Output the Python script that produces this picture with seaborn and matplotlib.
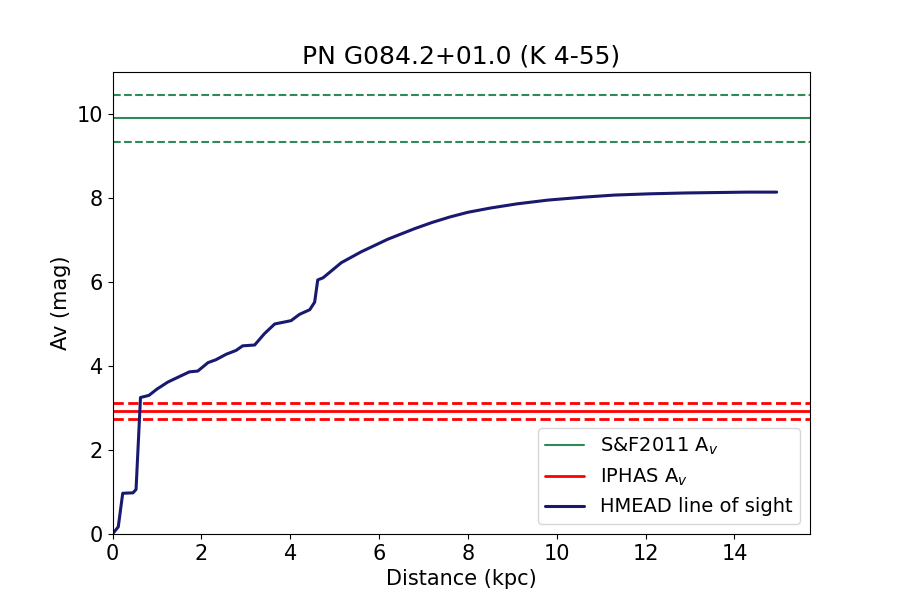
import matplotlib
matplotlib.use("Agg")
import matplotlib.pyplot as plt
import seaborn as sns
import pandas as pd

title = "PN G084.2+01.0 (K 4-55)"
distance = [0.0, 0.13, 0.23, 0.46, 0.53, 0.63, 0.82, 1.0, 1.25, 1.51, 1.73, 1.92, 2.15, 2.33,
            2.56, 2.78, 2.93, 3.2, 3.42, 3.65, 4.02, 4.21, 4.44, 4.55, 4.62, 4.74, 5.15, 5.6,
            6.2, 6.8, 7.2, 7.6, 8.0, 8.5, 9.1, 9.8, 10.6, 11.3, 12.1, 12.9, 13.6, 14.3, 14.95]
hmead_av = [0.0, 0.17, 0.97, 0.98, 1.06, 3.25, 3.3, 3.45, 3.62, 3.75, 3.86, 3.88, 4.08, 4.15,
            4.28, 4.37, 4.48, 4.5, 4.77, 5.0, 5.08, 5.23, 5.34, 5.52, 6.05, 6.1, 6.46, 6.72,
            7.02, 7.27, 7.42, 7.55, 7.66, 7.76, 7.86, 7.95, 8.02, 8.07, 8.1, 8.12, 8.13, 8.14, 8.14]
sf_av, sf_err = 9.9, 0.56
iphas_av, iphas_err = 2.93, 0.18

df = pd.DataFrame({"Distance": distance, "Av": hmead_av})

sns.set_style("ticks")
plt.rcParams.update({
    "font.family": ["DejaVu Sans"],
    "text.color": "black",
    "axes.labelcolor": "black",
    "xtick.color": "black",
    "ytick.color": "black",
    "axes.edgecolor": "black",
})
fig, ax = plt.subplots(figsize=(9, 6), dpi=100)

ax.axhline(sf_av, color="seagreen", lw=1.5, label="S&F2011 A$_v$")
ax.axhline(sf_av + sf_err, color="seagreen", lw=1.5, ls="--")
ax.axhline(sf_av - sf_err, color="seagreen", lw=1.5, ls="--")
ax.axhline(iphas_av, color="red", lw=2, label="IPHAS A$_v$")
ax.axhline(iphas_av + iphas_err, color="red", lw=2, ls="--")
ax.axhline(iphas_av - iphas_err, color="red", lw=2, ls="--")
sns.lineplot(data=df, x="Distance", y="Av", ax=ax, color="midnightblue", lw=2.2,
             label="HMEAD line of sight")

ax.set_xlim(0, 15.7)
ax.set_ylim(0, 11)
ax.set_xticks([0, 2, 4, 6, 8, 10, 12, 14])
ax.set_yticks([0, 2, 4, 6, 8, 10])
ax.tick_params(labelsize=15, colors="black")
ax.set_xlabel("Distance (kpc)", fontsize=15, color="black")
ax.set_ylabel("Av (mag)", fontsize=15, color="black")
ax.set_title(title, fontsize=18, color="black")
for s in ax.spines.values():
    s.set_visible(True)
    s.set_color("black")
leg = ax.legend(loc="lower right", fontsize=14)
for t in leg.get_texts():
    t.set_color("black")

fig.subplots_adjust(left=0.125, right=0.9, top=0.88, bottom=0.11)
fig.savefig("out.png", dpi=100)
